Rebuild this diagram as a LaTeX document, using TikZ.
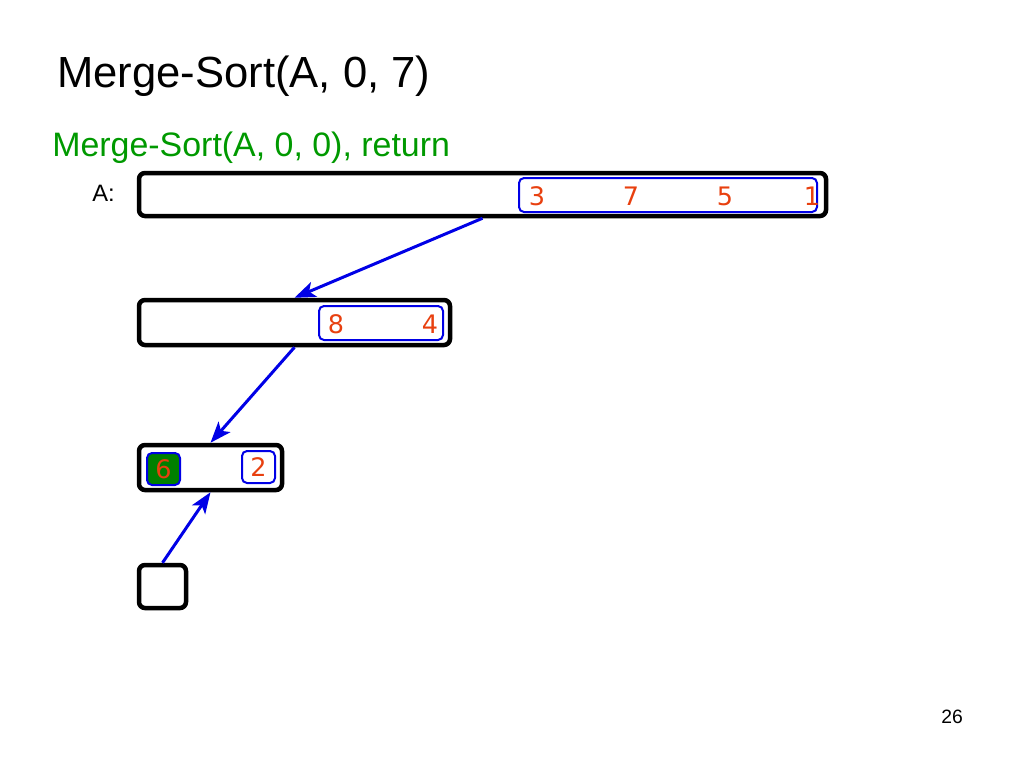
\documentclass[tikz,border=0pt]{standalone}
\usepackage{fontspec}
\setmainfont{Liberation Sans}
\newfontfamily\cellfont{DejaVu Sans}
\usetikzlibrary{arrows.meta}
\definecolor{SortGreen}{HTML}{009900}
\definecolor{CellGreen}{HTML}{008000}
\definecolor{DigitRed}{HTML}{E8400F}
\definecolor{CallBlue}{HTML}{0000E6}
\def\pxu{0.02cm}

\begin{document}
\begin{tikzpicture}[x=0.02cm,y=-0.02cm,
  arraybox/.style={draw=black,line width=4.5*\pxu,rounded corners=6*\pxu,inner sep=0pt},
  subbox/.style={draw=CallBlue,line width=2*\pxu,rounded corners=5*\pxu,inner sep=0pt},
  num/.style={text=DigitRed,font=\cellfont\fontsize{14.5}{16}\selectfont,inner sep=0pt},
  call/.style={draw=CallBlue,line width=3*\pxu,-{Stealth[length=12pt,width=9pt,inset=3pt]}},
  label/.style={anchor=base west,inner sep=0pt}]
  \useasboundingbox (0,0) rectangle (1024,768);
  \node[label,font=\fontsize{24.8}{30}\selectfont] (title) at (57,87) {Merge-Sort(A, 0, 7)};
  \node[label,text=SortGreen,font=\fontsize{19.3}{23}\selectfont] (subtitle) at (52,156) {Merge-Sort(A, 0, 0), return};
  \node[label,font=\fontsize{13.5}{16}\selectfont] (alabel) at (92,201) {A:};
  \node[label,font=\fontsize{11}{13}\selectfont] (pagenum) at (941,723) {26};
  % level 0
  \node[arraybox,minimum width=687*\pxu,minimum height=43*\pxu] (box1) at (482.5,194.5) {};
  \node[subbox,minimum width=298*\pxu,minimum height=34*\pxu] (sub1) at (668,195) {};
  \foreach \v/\x in {3/537,7/631,5/725,1/812}
    \node[num] (a\v) at (\x,196) {\v};
  % level 1
  \node[arraybox,minimum width=311*\pxu,minimum height=45*\pxu] (box2) at (294.5,322.5) {};
  \node[subbox,minimum width=124*\pxu,minimum height=34*\pxu] (sub2) at (381,323) {};
  \node[num] (b8) at (336,324) {8};
  \node[num] (b4) at (430,324) {4};
  % level 2
  \node[arraybox,minimum width=143*\pxu,minimum height=45*\pxu] (box3) at (210.5,467.5) {};
  \node[subbox,fill=CellGreen,minimum width=33*\pxu,minimum height=32*\pxu] (cell6) at (163.5,469) {};
  \node[num] (c6) at (163.5,469) {6};
  \node[subbox,minimum width=33*\pxu,minimum height=32*\pxu] (cell2) at (258.5,467) {};
  \node[num] (c2) at (258.5,467) {2};
  % level 3
  \node[arraybox,minimum width=47*\pxu,minimum height=43*\pxu] (box4) at (162.5,586.5) {};
  \draw[call] (box1.south) -- (box2.north);
  \draw[call] (box2.south) -- (box3.north);
  \draw[call] (box4.north) -- (box3.south);
\end{tikzpicture}
\end{document}
